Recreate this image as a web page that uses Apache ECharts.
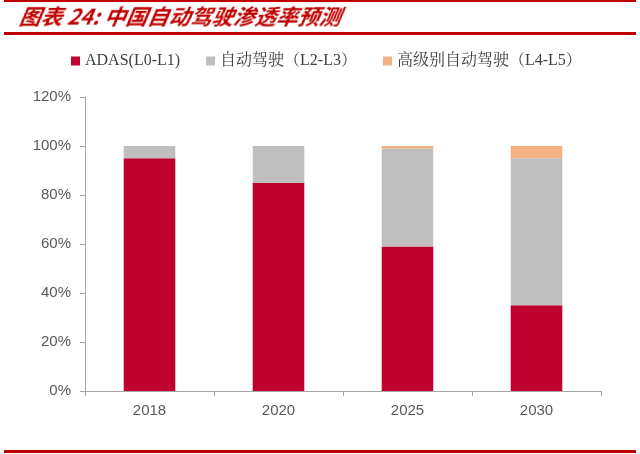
<!DOCTYPE html>
<html><head><meta charset="utf-8">
<script src="https://cdn.jsdelivr.net/npm/echarts@6/dist/echarts.min.js"></script>
<style>
html,body{margin:0;padding:0;background:#fff;}
#wrap{position:relative;width:640px;height:454px;overflow:hidden;}
#title{position:absolute;left:20px;top:1px;font-family:"Noto Sans CJK SC",sans-serif;font-style:italic;font-weight:bold;color:#c00000;font-size:21.5px;line-height:30px;transform:skewX(-10deg);}
.rl{position:absolute;left:4px;width:632px;background:#c00000;}
#chart{position:absolute;left:0;top:0;width:640px;height:454px;}
</style></head>
<body><div id="wrap">
<div class="rl" style="top:0px;height:2px;"></div>
<div class="rl" style="top:32px;height:3px;"></div>
<div class="rl" style="top:450px;height:3px;"></div>
<div id="chart"></div>
<div id="title">图表 24: 中国自动驾驶渗透率预测</div>
</div>
<script>
const categories = ['2018', '2020', '2025', '2030'];
const seriesNames = ['ADAS(L0-L1)', '自动驾驶（L2-L3）', '高级别自动驾驶（L4-L5）'];
const adas = [95, 85, 59, 35];
const l2l3 = [5, 15, 40, 60];
const l4l5 = [0, 0, 1, 5];
const yTicks = [0, 20, 40, 60, 80, 100, 120];
const colors = ['#c0002f', '#bfbfbf', '#f4b183'];

const chart = echarts.init(document.getElementById('chart'));
const labelFont = {fontFamily: 'Liberation Sans, Arial, sans-serif', fontSize: 15, color: '#595959'};
chart.setOption({
  animation: false,
  grid: {left: 85, right: 39, top: 97, bottom: 63},
  legend: {
    top: 48, left: 66, itemWidth: 9, itemHeight: 9, itemGap: 26,
    icon: 'rect',
    textStyle: {fontFamily: 'Liberation Serif, "Noto Serif CJK SC", "Noto Sans CJK SC", serif', fontSize: 16, color: '#404040'},
    data: seriesNames
  },
  xAxis: {
    type: 'category', data: categories,
    axisLine: {lineStyle: {color: '#a6a6a6', width: 1}},
    axisTick: {show: true, alignWithLabel: false, length: 5, lineStyle: {color: '#a6a6a6'}},
    axisLabel: Object.assign({margin: 12}, labelFont)
  },
  yAxis: {
    type: 'value', min: yTicks[0], max: yTicks[yTicks.length - 1], interval: 20,
    axisLine: {show: true, lineStyle: {color: '#a6a6a6', width: 1}},
    axisTick: {show: true, length: 5, lineStyle: {color: '#a6a6a6'}},
    splitLine: {show: false},
    axisLabel: Object.assign({margin: 14, formatter: v => v + '%'}, labelFont)
  },
  series: [
    {name: seriesNames[0], type: 'bar', stack: 's', data: adas, barWidth: '40%', itemStyle: {color: colors[0]}},
    {name: seriesNames[1], type: 'bar', stack: 's', data: l2l3, itemStyle: {color: colors[1]}},
    {name: seriesNames[2], type: 'bar', stack: 's', data: l4l5, itemStyle: {color: colors[2]}}
  ]
});
</script>
</body></html>
